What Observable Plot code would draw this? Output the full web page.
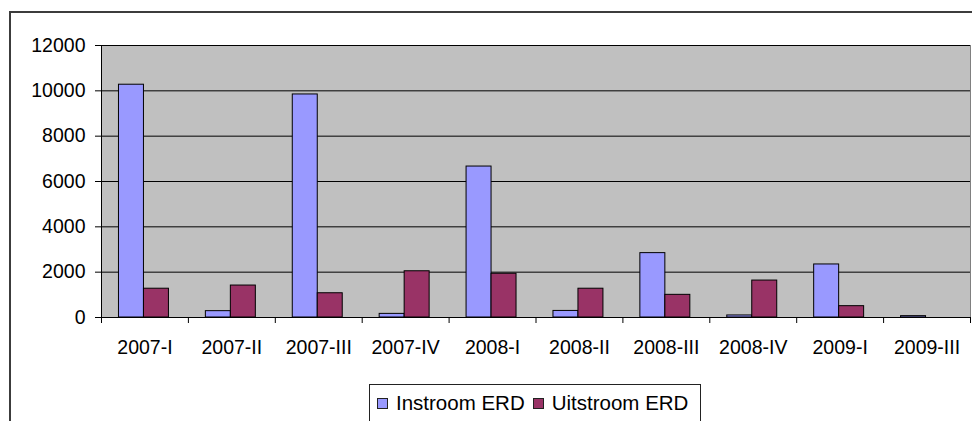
<!DOCTYPE html>
<html>
<head>
<meta charset="utf-8">
<script src="https://cdn.jsdelivr.net/npm/d3@7"></script>
<script src="https://cdn.jsdelivr.net/npm/@observablehq/plot@0.6"></script>
<style>
  html, body { margin: 0; padding: 0; background: #fff; overflow: hidden; }
  #wrap { position: relative; width: 972px; height: 421px; font-family: "Liberation Sans", Arial, sans-serif; }
  #border { position: absolute; left: 9px; top: 11px; width: 1000px; height: 500px; border-top: 2px solid #3c3c3c; border-left: 2px solid #3c3c3c; box-sizing: border-box; }
  #chart { position: absolute; left: 0; top: 0; }
  #legend { position: absolute; left: 369px; top: 384px; width: 332px; height: 60px; border: 1px solid #222; box-sizing: border-box; background: #fff;
            display: flex; align-items: flex-start; padding: 6px 0 0 7px; font-size: 20.5px; color: #000; }
  .item { display: flex; align-items: center; margin-right: 8px; line-height: 24px; }
  .sw { width: 11px; height: 11px; border: 1px solid #222; box-sizing: border-box; margin-right: 8px; }
</style>
</head>
<body>
<div id="wrap">
  <div id="border"></div>
  <div id="chart"></div>
  <div id="legend"></div>
</div>
<script>
const categories = ["2007-I","2007-II","2007-III","2007-IV","2008-I","2008-II","2008-III","2008-IV","2009-I","2009-III"];
const instroom  = [10270, 280, 9840, 160, 6660, 290, 2840, 90, 2340, 60];
const uitstroom = [1270, 1410, 1070, 2040, 1930, 1270, 1000, 1630, 500, 0];
const seriesNames = ["Instroom ERD", "Uitstroom ERD"];
const seriesColors = ["#9999ff", "#993366"];
const yTicks = [0, 2000, 4000, 6000, 8000, 10000, 12000];

const blueRows = categories.map((c, i) => ({cat: c, v: instroom[i]})).filter(d => d.v > 0);
const redRows = categories.map((c, i) => ({cat: c, v: uitstroom[i]})).filter(d => d.v > 0);

const W = 972, H = 421, ML = 101, MR = 2;
const step = (W - ML - MR) / categories.length;
const half = step * 0.575 / 2;
const font = "Liberation Sans, Arial, sans-serif";

const chart = Plot.plot({
  width: W, height: H,
  marginLeft: ML, marginRight: MR, marginTop: 45, marginBottom: 104,
  style: {fontFamily: font, background: "transparent", color: "#000"},
  x: {type: "band", domain: categories, paddingInner: 0.425, paddingOuter: 0.2125, round: false, axis: null, label: null},
  y: {domain: [0, 12000], axis: null, label: null},
  marks: [
    Plot.frame({fill: "#c0c0c0", stroke: "#808080"}),
    Plot.gridY(yTicks, {stroke: "#000", strokeOpacity: 1}),
    Plot.barY(blueRows, {x: "cat", y: "v", fill: seriesColors[0], stroke: "#000", strokeWidth: 1, insetRight: half, dx: -1}),
    Plot.barY(redRows, {x: "cat", y: "v", fill: seriesColors[1], stroke: "#000", strokeWidth: 1, insetLeft: half, dx: -1}),
    Plot.ruleY([0], {stroke: "#000"}),
    Plot.frame({anchor: "left", stroke: "#000"}),
    Plot.axisY(yTicks, {tickSize: 6, tickPadding: 10, fontSize: 19.5, stroke: "#000", tickFormat: d => String(d), label: null}),
    Plot.axisX({tickSize: 0, tickPadding: 23, fontSize: 19.5, label: null}),
    Plot.axisX(categories, {tickSize: 6, tickFormat: () => "", dx: -step / 2, stroke: "#000", label: null}),
    Plot.axisX([categories[categories.length - 1]], {tickSize: 6, tickFormat: () => "", dx: step / 2, stroke: "#000", label: null})
  ]
});
document.getElementById("chart").appendChild(chart);

const legend = document.getElementById("legend");
seriesNames.forEach((name, i) => {
  const it = document.createElement("div");
  it.className = "item";
  const sw = document.createElement("div");
  sw.className = "sw";
  sw.style.background = seriesColors[i];
  const tx = document.createElement("span");
  tx.textContent = name;
  it.appendChild(sw); it.appendChild(tx);
  legend.appendChild(it);
});
</script>
</body>
</html>
